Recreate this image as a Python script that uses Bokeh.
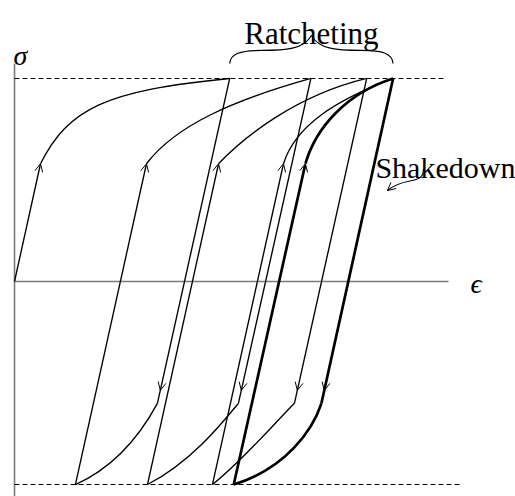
from bokeh.plotting import figure
from bokeh.models import Range1d, Arrow, OpenHead, Label
from bokeh.embed import file_html
from bokeh.resources import INLINE

# Stress levels of the cyclic load (arbitrary units)
sigma_max = 10.0
sigma_min = -10.0
sigma_yield_fwd = 5.8      # stress where plastic flow starts on (re)loading
sigma_yield_rev = -6.0     # stress where plastic flow starts on unloading

# Strains at the turning points of each cycle
eps_peak = [10.6, 14.6, 17.35, 18.65]
eps_trough = [3.0, 6.55, 9.75, 10.8]
eps_yield_fwd = [1.28, 6.5, 10.05, 13.25, 14.33]
eps_yield_rev = [7.04, 11.03, 13.79, 15.12]

# Control points of the plastic (hardening) branches
tension_cx0 = [2.66, 7.93, 11.28, 13.84, 14.83]
tension_cy0 = [8.52, 7.68, 7.09, 7.68, 7.54]
tension_cx1 = [4.48, 10.74, 13.84, 15.81, 16.31]
tension_cy1 = [9.41, 8.92, 9.16, 8.92, 9.26]
compression_cx0 = [6.45, 10.25, 12.71, 14.68]
compression_cy0 = [-7.09, -6.95, -7.09, -7.34]
compression_cx1 = [5.22, 8.67, 11.13, 13.35]
compression_cy1 = [-9.01, -8.92, -8.92, -9.21]

THIN = 1.35
THICK = 2.7
AXIS_COLOR = "#7a7a7a"

p = figure(width=515, height=496,
           x_range=Range1d(-0.69, 24.68), y_range=Range1d(-10.59, 13.84),
           x_axis_location=None, y_axis_location=None,
           toolbar_location=None, output_backend="svg", min_border=0)
p.grid.visible = False
p.outline_line_color = None
p.background_fill_color = "white"

# sigma / epsilon axes
p.segment(x0=[0, 0], y0=[-11.0, 0], x1=[0, 21.38], y1=[10.74, 0],
          line_color=AXIS_COLOR, line_width=1.6)

# stress bounds
p.segment(x0=[0, 0], y0=[sigma_max, sigma_min], x1=[21.13, 22.07],
          y1=[sigma_max, sigma_min], line_color="black", line_width=1.1,
          line_dash="5 3")


def head():
    return OpenHead(size=8, line_width=1, line_color="black")


n = len(eps_peak)
last = n - 1

# initial elastic loading
p.add_layout(Arrow(x_start=0, y_start=0, x_end=eps_yield_fwd[0], y_end=sigma_yield_fwd,
                   end=head(), line_width=THIN, line_color="black"))

# tension hardening branches
for k in range(n + 1):
    w = THICK if k == n else THIN
    p.bezier(x0=[eps_yield_fwd[k]], y0=[sigma_yield_fwd],
             x1=[eps_peak[min(k, last)]], y1=[sigma_max],
             cx0=[tension_cx0[k]], cy0=[tension_cy0[k]],
             cx1=[tension_cx1[k]], cy1=[tension_cy1[k]],
             line_color="black", line_width=w)

for k in range(n):
    w = THICK if k == last else THIN
    # elastic unloading
    p.segment(x0=[eps_peak[k]], y0=[sigma_max], x1=[eps_yield_rev[k]], y1=[sigma_yield_rev],
              line_color="black", line_width=w)
    f = 0.96
    xa = eps_peak[k] + f * (eps_yield_rev[k] - eps_peak[k])
    ya = sigma_max + f * (sigma_yield_rev - sigma_max)
    p.add_layout(Arrow(x_start=eps_peak[k], y_start=sigma_max, x_end=xa, y_end=ya,
                       end=head(), line_alpha=0))
    # compression hardening
    p.bezier(x0=[eps_yield_rev[k]], y0=[sigma_yield_rev],
             x1=[eps_trough[k]], y1=[sigma_min],
             cx0=[compression_cx0[k]], cy0=[compression_cy0[k]],
             cx1=[compression_cx1[k]], cy1=[compression_cy1[k]],
             line_color="black", line_width=w)
    # elastic reloading
    p.add_layout(Arrow(x_start=eps_trough[k], y_start=sigma_min,
                       x_end=eps_yield_fwd[k + 1], y_end=sigma_yield_fwd,
                       end=head(), line_width=w, line_color="black"))

# brace over the ratcheting peaks
xl, xr = eps_peak[0], eps_peak[-1]
xm = 0.5 * (xl + xr)
yb, ym, yt = 10.74, 11.38, 12.12
bx0, by0, bx1, by1, bcx0, bcy0, bcx1, bcy1 = [], [], [], [], [], [], [], []
for s, xe in ((1, xl), (-1, xr)):
    bx0 += [xe, xe + s * 1.58]
    by0 += [yb, ym]
    bx1 += [xe + s * 1.58, xm]
    by1 += [ym, yt]
    bcx0 += [xe + s * 0.05, xm - s * 1.28]
    bcy0 += [11.23, ym]
    bcx1 += [xe + s * 0.49, xm - s * 0.39]
    bcy1 += [ym, 11.43]
p.bezier(x0=bx0, y0=by0, x1=bx1, y1=by1, cx0=bcx0, cy0=bcy0, cx1=bcx1, cy1=bcy1,
         line_color="black", line_width=1.2)

# wavy pointer to the shakedown loop
p.bezier(x0=[20.15], y0=[5.57], x1=[18.37], y1=[4.48],
         cx0=[20.15], cy0=[4.68], cx1=[19.26], cy1=[5.22],
         line_color="black", line_width=1.1)
p.add_layout(Arrow(x_start=18.6, y_start=4.67, x_end=18.37, y_end=4.48,
                   end=head(), line_alpha=0))

serif = "Liberation Serif"
p.add_layout(Label(x=xm, y=12.22, text="Ratcheting", text_font=serif,
                   text_font_size="31px", text_align="center",
                   text_baseline="alphabetic", text_color="black"))
p.add_layout(Label(x=17.78, y=5.62, text="Shakedown", text_font=serif,
                   text_font_size="30px", text_align="left",
                   text_baseline="alphabetic", text_color="black"))
p.add_layout(Label(x=-0.05, y=11.13, text="σ", text_font=serif,
                   text_font_style="italic", text_font_size="28px",
                   text_baseline="alphabetic", text_color="black"))
p.add_layout(Label(x=22.46, y=-0.1, text="ϵ", text_font=serif,
                   text_font_style="italic", text_font_size="28px",
                   text_baseline="alphabetic", text_color="black"))

open("out.html", "w").write(file_html(p, INLINE))
